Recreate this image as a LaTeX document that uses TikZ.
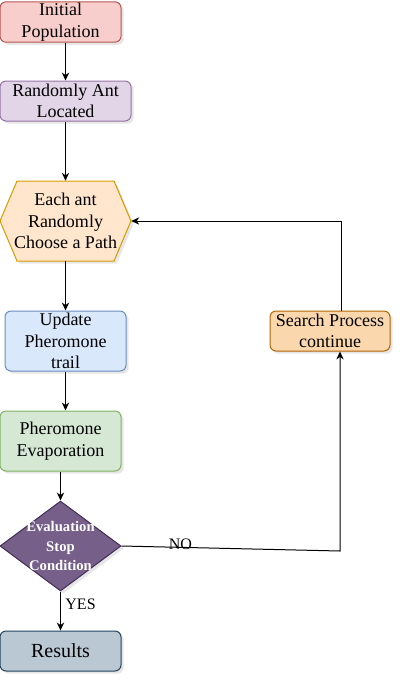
\documentclass[tikz,border=0pt]{standalone}
\usepackage{fontspec}
\setmainfont{Liberation Serif}
\usetikzlibrary{arrows.meta,shapes.geometric,shadows}

\definecolor{initfill}{HTML}{F8CECC}
\definecolor{initline}{HTML}{B85450}
\definecolor{antfill}{HTML}{E1D5E7}
\definecolor{antline}{HTML}{9673A6}
\definecolor{hexfill}{HTML}{FFE6CC}
\definecolor{hexline}{HTML}{D79B00}
\definecolor{updfill}{HTML}{DAE8FC}
\definecolor{updline}{HTML}{6C8EBF}
\definecolor{evapfill}{HTML}{D5E8D4}
\definecolor{evapline}{HTML}{82B366}
\definecolor{evalfill}{HTML}{76608A}
\definecolor{evalline}{HTML}{432D57}
\definecolor{resfill}{HTML}{BAC8D3}
\definecolor{resline}{HTML}{23445D}
\definecolor{searchfill}{HTML}{FAD7AC}
\definecolor{searchline}{HTML}{B46504}

\def\pw{0.75pt}

\tikzset{
  shade box/.style={drop shadow={opacity=0.2, shadow xshift=2pt, shadow yshift=-2pt}},
  box/.style={draw, shade box, rounded corners=4.5pt, align=center, line width=0.75pt,
    inner sep=1pt, font=\fontsize{13.5}{16}\selectfont},
  link/.style={-{Stealth[length=6pt, width=5.5pt]}, line width=0.75pt},
}

\begin{document}
\begin{tikzpicture}[x=0.75pt, y=-0.75pt]
    \useasboundingbox (0, 0) rectangle (402, 683);

    \node[box, fill=initfill, draw=initline, minimum width=121*\pw, minimum height=40*\pw] (init) at (60.5, 22) {Initial\\Population};
    \node[box, fill=antfill, draw=antline, minimum width=131*\pw, minimum height=40*\pw] (ant) at (65.5, 101) {Randomly Ant\\Located};

    % hexagon drawn by hand, node on top for the text
    \filldraw[shade box, fill=hexfill, draw=hexline, line width=0.75pt]
        (0, 221) -- (17, 181) -- (114, 181) -- (131, 221) -- (114, 261) -- (17, 261) -- cycle;
    \node[align=center, inner sep=0pt, minimum width=131*\pw, minimum height=80*\pw,
        font=\fontsize{13.5}{16}\selectfont] (hex) at (65.5, 221) {Each ant\\Randomly\\Choose a Path};

    \node[box, fill=updfill, draw=updline, minimum width=121*\pw, minimum height=60*\pw] (upd) at (65.5, 341) {Update\\Pheromone\\trail};
    \node[box, fill=evapfill, draw=evapline, minimum width=121*\pw, minimum height=60*\pw] (evap) at (60.5, 441) {Pheromone\\Evaporation};

    \node[diamond, shade box, aspect=1.344, fill=evalfill, draw=evalline, line width=0.75pt, inner sep=0pt,
        minimum width=121*\pw, minimum height=90*\pw,
        label={[align=center, text=white, font=\bfseries\fontsize{11}{14.6}\selectfont]center:Evaluation\\Stop\\Condition}] (eval) at (60.5, 546) {};

    \node[box, fill=resfill, draw=resline, minimum width=121*\pw, minimum height=40*\pw,
        font=\fontsize{15}{17}\selectfont] (res) at (60.5, 651) {Results};
    \node[box, fill=searchfill, draw=searchline, minimum width=120*\pw, minimum height=40*\pw] (search) at (330, 331) {Search Process\\continue};

    \coordinate (turn) at (340, 551);
    \coordinate (back) at (341, 221);

    \draw[link] (init.south -| ant.north) -- (ant.north);
    \draw[link] (ant) -- (hex);
    \draw[link] (hex) -- (upd);
    \draw[link] (upd.south) -- (evap.north -| upd.south);
    \draw[link] (evap) -- (eval);
    \draw[link] (eval) -- node[pos=0.33, right, font=\fontsize{12}{14}\selectfont] {YES} (res);
    \draw[link] (eval.east) -- node[pos=0.27, yshift=2.5pt, font=\fontsize{12}{14}\selectfont] {NO} (turn) -- (turn |- search.south);
    \draw[link] (search.north -| back) -- (back) -- (hex.east);
\end{tikzpicture}
\end{document}
